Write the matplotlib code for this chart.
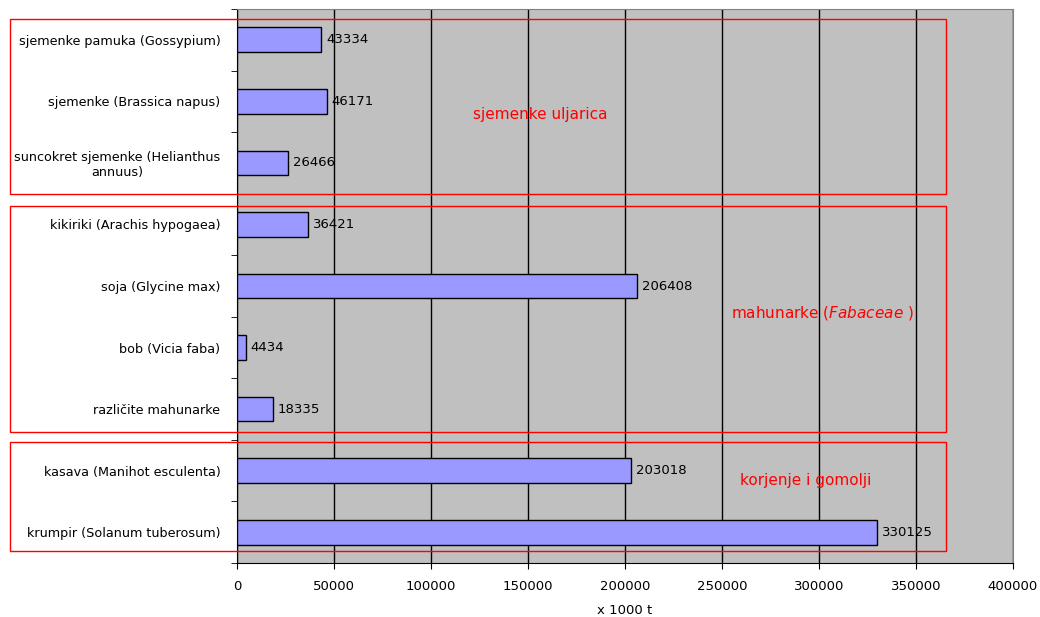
import matplotlib.pyplot as plt
from matplotlib.patches import Rectangle

# crops, top to bottom
labels = ["sjemenke pamuka (Gossypium)", "sjemenke (Brassica napus)",
          "suncokret sjemenke (Helianthus\nannuus)", "kikiriki (Arachis hypogaea)",
          "soja (Glycine max)", "bob (Vicia faba)", "različite mahunarke",
          "kasava (Manihot esculenta)", "krumpir (Solanum tuberosum)"]
values = [43334, 46171, 26466, 36421, 206408, 4434, 18335, 203018, 330125]
xticks = [0, 50000, 100000, 150000, 200000, 250000, 300000, 350000, 400000]

plt.rcParams['font.family'] = ['DejaVu Sans']
fig = plt.figure(figsize=(10.4, 6.17), dpi=100)
W, H = 1040, 617
ax = fig.add_axes([237 / W, 1 - 563 / H, 776 / W, 554 / H])
ax.set_facecolor('#c0c0c0')

n = len(values)
ypos = list(range(n - 1, -1, -1))
ax.barh(ypos, values, height=0.4, color='#9999ff', edgecolor='black', linewidth=1, zorder=3)
for y, v in zip(ypos, values):
    ax.text(v + 2500, y, str(v), va='center', ha='left', fontsize=9.5, zorder=4)

ax.set_xlim(0, 400000)
ax.set_ylim(-0.5, n - 0.5)
ax.set_xticks(xticks)
ax.set_xticklabels([str(t) for t in xticks], fontsize=9.5)
ax.set_yticks(ypos)
ax.set_yticklabels(labels, fontsize=9.2)
ax.tick_params(axis='y', length=0, pad=12)
ax.set_yticks([i + 0.5 for i in range(-1, n)], minor=True)
ax.tick_params(axis='y', which='minor', length=4, direction='out')
ax.tick_params(axis='x', length=4, direction='out', pad=8)
for yl in ax.get_yticklabels():
    yl.set_multialignment('center')
ax.xaxis.grid(True, color='black', linewidth=1, zorder=1)
ax.set_axisbelow(True)
for s in ['top', 'right']:
    ax.spines[s].set_color('#808080')
for s in ['left', 'bottom']:
    ax.spines[s].set_color('black')
ax.set_xlabel("x 1000 t", fontsize=9.5, labelpad=8)

# group boxes (figure pixels)
boxes = [(10, 19, 946, 194), (10, 206, 946, 432), (10, 442, 946, 551)]
for x0, y0, x1, y1 in boxes:
    fig.patches.append(Rectangle((x0 / W, 1 - y1 / H), (x1 - x0) / W, (y1 - y0) / H,
                                 transform=fig.transFigure, fill=False,
                                 edgecolor='red', linewidth=1, zorder=5))

fig.text(540 / W, 1 - 114 / H, "sjemenke uljarica", color='red', fontsize=11, ha='center', va='center')
fig.text(822 / W, 1 - 313 / H, "mahunarke ($\\it{Fabaceae}$ )", color='red', fontsize=11, ha='center', va='center')
fig.text(806 / W, 1 - 481 / H, "korjenje i gomolji", color='red', fontsize=11, ha='center', va='center')

fig.savefig("out.png", dpi=100)
